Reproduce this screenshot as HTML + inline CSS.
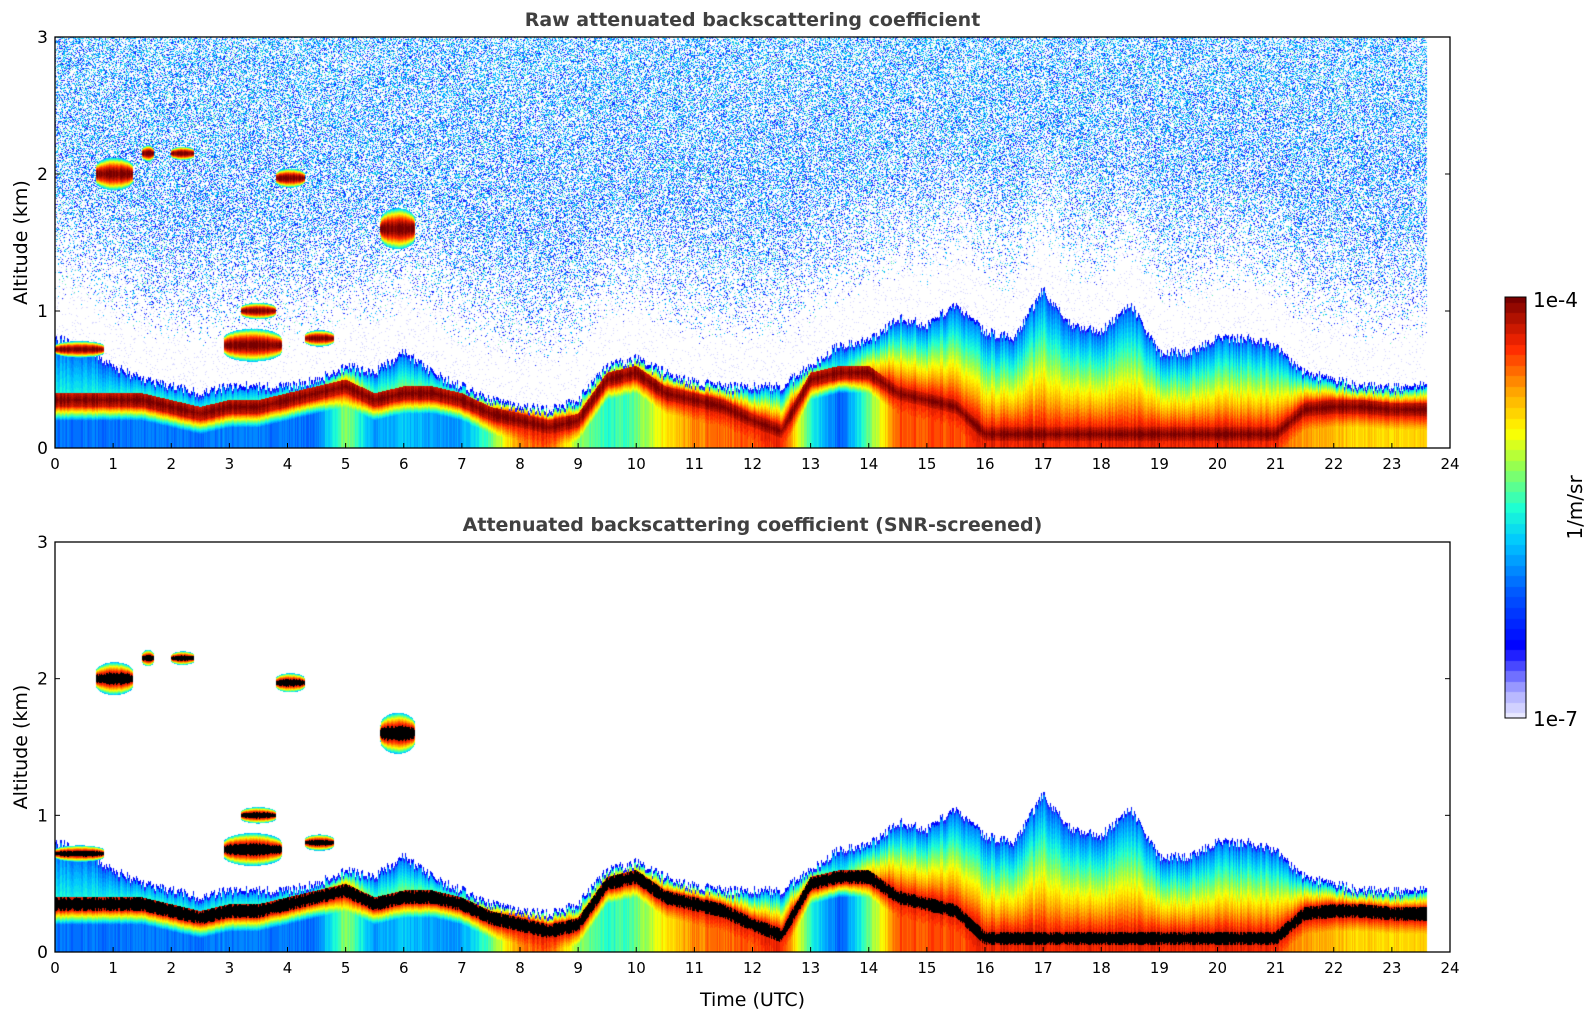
<!DOCTYPE html>
<html><head><meta charset="utf-8">
<style>
body{margin:0;background:#fff;width:1595px;height:1020px;overflow:hidden;font-family:"DejaVu Sans","Liberation Sans",sans-serif;}
#wrap{position:relative;width:1595px;height:1020px;}
canvas{position:absolute;}
svg{position:absolute;left:0;top:0;}
</style></head>
<body>
<div id="wrap">
<canvas id="c1"></canvas>
<canvas id="c2"></canvas>
<canvas id="cb"></canvas>
<svg id="ov" width="1595" height="1020"></svg>
</div>
<script>
// ---- data (time in hours, altitude in km) ----
const times = [0,0.5,1,1.5,2,2.5,3,3.5,4,4.5,5,5.5,6,6.5,7,7.5,8,8.5,9,9.5,10,10.5,11,11.5,12,12.5,13,13.5,14,14.5,15,15.5,16,16.5,17,17.5,18,18.5,19,19.5,20,20.5,21,21.5,22,22.5,23,23.6];
const signalTop = [0.8,0.75,0.6,0.5,0.45,0.4,0.45,0.45,0.45,0.5,0.6,0.55,0.7,0.55,0.45,0.35,0.3,0.28,0.35,0.6,0.65,0.55,0.48,0.45,0.45,0.45,0.6,0.75,0.78,0.95,0.9,1.05,0.85,0.8,1.15,0.9,0.85,1.05,0.7,0.7,0.8,0.8,0.75,0.55,0.5,0.45,0.45,0.45];
const layerPeak = [0.35,0.35,0.35,0.35,0.3,0.25,0.3,0.3,0.35,0.4,0.45,0.35,0.4,0.4,0.35,0.25,0.2,0.15,0.2,0.5,0.55,0.4,0.35,0.3,0.2,0.12,0.5,0.55,0.55,0.4,0.35,0.3,0.1,0.1,0.1,0.1,0.1,0.1,0.1,0.1,0.1,0.1,0.1,0.28,0.3,0.3,0.28,0.28];
const lowIntensity = [0.33,0.33,0.33,0.33,0.33,0.33,0.34,0.34,0.33,0.33,0.6,0.37,0.42,0.37,0.37,0.55,0.8,0.85,0.6,0.5,0.55,0.7,0.8,0.82,0.85,0.9,0.5,0.3,0.55,0.85,0.85,0.85,0.88,0.88,0.88,0.88,0.88,0.88,0.88,0.88,0.88,0.88,0.85,0.78,0.75,0.72,0.72,0.72];
const cloudStart = [0.7,1.5,2.0,3.8,5.6,2.9,3.2,4.3,0.0];
const cloudEnd   = [1.35,1.7,2.4,4.3,6.2,3.9,3.8,4.8,0.85];
const cloudAlt   = [2.0,2.15,2.15,1.97,1.6,0.75,1.0,0.8,0.72];
const cloudThick = [0.12,0.06,0.05,0.07,0.15,0.12,0.06,0.06,0.06];
const dataEnd = 23.6;
const yTicks = [0,1,2,3];
const xTicks = [0,1,2,3,4,5,6,7,8,9,10,11,12,13,14,15,16,17,18,19,20,21,22,23,24];

// ---- geometry ----
const X0=55,X1=1450;
const P1={top:37,bot:448}, P2={top:542,bot:952};
const CB={x:1505,w:21,top:297,bot:718};
function xs(t){return X0+(t/24)*(X1-X0);}
function ysc(p,z){return p.bot-(z/3)*(p.bot-p.top);}
function interp(arr,t){
  if(t<=times[0])return arr[0];
  for(let i=1;i<times.length;i++){if(t<=times[i]){const f=(t-times[i-1])/(times[i]-times[i-1]);return arr[i-1]+f*(arr[i]-arr[i-1]);}}
  return arr[arr.length-1];
}
const stops=[[0,[232,232,255]],[0.06,[176,176,255]],[0.12,[80,80,255]],[0.17,[0,0,255]],[0.3,[0,90,255]],[0.42,[0,200,255]],[0.5,[30,255,210]],[0.6,[150,255,80]],[0.68,[255,255,0]],[0.78,[255,160,0]],[0.88,[255,40,0]],[1,[120,0,0]]];
function cmap(v){
  v=Math.max(0,Math.min(1,Math.round(v*40)/40));
  for(let i=1;i<stops.length;i++){if(v<=stops[i][0]){const a=stops[i-1],b=stops[i];const f=(v-a[0])/(b[0]-a[0]);return [0,1,2].map(k=>Math.round(a[1][k]+f*(b[1][k]-a[1][k])));}}
  return stops[stops.length-1][1];
}
function hash(i,j){let h=(i*374761393+j*668265263)|0;h=(h^(h>>>13))*1274126177|0;return ((h^(h>>>16))>>>0)/4294967296;}

function value(t,z,col){
  if(t>dataEnd)return null;
  const top=interp(signalTop,t)+col*1.2,pk=interp(layerPeak,t),lo=interp(lowIntensity,t);
  for(let k=0;k<cloudStart.length;k++){
    if(t>=cloudStart[k]&&t<=cloudEnd[k]){
      const mid=(cloudStart[k]+cloudEnd[k])/2,half=(cloudEnd[k]-cloudStart[k])/2;
      const taper=Math.sqrt(Math.max(0,1-Math.pow((t-mid)/half,2)));
      const th=cloudThick[k]*(0.4+0.6*taper);
      if(Math.abs(z-cloudAlt[k])<th){const d=Math.abs(z-cloudAlt[k])/th;return {v:1-0.6*d*d,sig:true};}
    }
  }
  if(z>top)return {v:0,sig:false,top:top};
  const dl=Math.abs(z-pk);
  let v;
  if(dl<0.05)v=1-dl*1.5;
  else if(z<pk)v=lo+(0.9-lo)*Math.max(0,1-(pk-z-0.05)/0.1);
  else {const f=(z-pk-0.05)/Math.max(0.02,top-pk-0.05);const st=Math.min(0.9,lo+0.15);v=st*(1-f)+0.3*f;if(top-z<0.025)v=0.17;}
  return {v:v,sig:true};
}
function render(id,p,raw){
  const c=document.getElementById(id);
  const w=X1-X0,h=p.bot-p.top;
  c.width=w;c.height=h;c.style.left=X0+'px';c.style.top=p.top+'px';
  const ctx=c.getContext('2d');const img=ctx.createImageData(w,h);const d=img.data;
  for(let i=0;i<w;i++){
    const t=(i+0.5)/w*24;
    const col=(hash(i,7)-0.5)*0.06;
    for(let j=0;j<h;j++){
      const z=(h-j-0.5)/h*3;
      const r=value(t,z,col);let rgb=[255,255,255];
      if(r){
        if(r.sig){let v=r.v+col;
          if(!raw&&v>0.93)rgb=[0,0,0];else rgb=cmap(v);}
        else if(raw){
          const dens=Math.min(0.4,Math.max(0,(z-r.top-0.3)/2.4));
          const hv=hash(i,j);
          if(hv<dens){const q=hash(j,i);const lz=z/3;rgb=q<0.6-0.3*lz?[20,40,255]:q<0.9?[0,185,255]:[90,235,180];}
          else if(hv<dens+0.05)rgb=[215,215,255];
        }
      }
      const o=(j*w+i)*4;d[o]=rgb[0];d[o+1]=rgb[1];d[o+2]=rgb[2];d[o+3]=255;
    }
  }
  ctx.putImageData(img,0,0);
}
render('c1',P1,true);render('c2',P2,false);
(function(){const c=document.getElementById('cb');const h=CB.bot-CB.top;c.width=CB.w;c.height=h;c.style.left=CB.x+'px';c.style.top=CB.top+'px';
const ctx=c.getContext('2d');for(let j=0;j<h;j++){const rgb=cmap(1-j/h);ctx.fillStyle='rgb('+rgb.join(',')+')';ctx.fillRect(0,j,CB.w,1);}})();

const NS='http://www.w3.org/2000/svg';const ov=document.getElementById('ov');
function el(tag,attrs,txt){const e=document.createElementNS(NS,tag);for(const k in attrs)e.setAttribute(k,attrs[k]);if(txt!==undefined)e.textContent=txt;ov.appendChild(e);return e;}
function panel(p,title,name){
  const f=el('rect',{x:X0,y:p.top,width:X1-X0,height:p.bot-p.top,fill:'none',stroke:'#000','stroke-width':1.3});
  
  xTicks.forEach(v=>{const x=xs(v);
    el('line',{x1:x,x2:x,y1:p.bot,y2:p.bot-5,stroke:'#000'});
    const t=el('text',{x:x,y:p.bot+21,'font-size':15,'text-anchor':'middle',fill:'#000'},String(v));
    });
  yTicks.forEach(v=>{const y=ysc(p,v);
    el('line',{x1:X0,x2:X0+5,y1:y,y2:y,stroke:'#000'});el('line',{x1:X1,x2:X1-5,y1:y,y2:y,stroke:'#000'});
    const t=el('text',{x:X0-7,y:y+6,'font-size':17,'text-anchor':'end',fill:'#000'},String(v));
    });
  const tt=el('text',{x:(X0+X1)/2,y:p.top-11,'font-size':19,'font-weight':'bold','text-anchor':'middle',fill:'#404040'},title);
  
  const yl=el('text',{x:0,y:0,'font-size':19,'text-anchor':'middle',fill:'#000',transform:'translate(27,'+((p.top+p.bot)/2)+') rotate(-90)'},'Altitude (km)');
  
}
panel(P1,'Raw attenuated backscattering coefficient','top-panel');
panel(P2,'Attenuated backscattering coefficient (SNR-screened)','bottom-panel');
const xl=el('text',{x:(X0+X1)/2,y:1006,'font-size':19,'text-anchor':'middle',fill:'#000'},'Time (UTC)');

const cbf=el('rect',{x:CB.x,y:CB.top,width:CB.w,height:CB.bot-CB.top,fill:'none',stroke:'#000','stroke-width':1});

const c1=el('text',{x:CB.x+28,y:CB.top+10,'font-size':20,fill:'#000'},'1e-4');

const c2=el('text',{x:CB.x+28,y:CB.bot+8,'font-size':20,fill:'#000'},'1e-7');

const cu=el('text',{x:0,y:0,'font-size':20,'text-anchor':'middle',fill:'#000',transform:'translate(1582,'+((CB.top+CB.bot)/2)+') rotate(-90)'},'1/m/sr');

</script>
</body></html>
